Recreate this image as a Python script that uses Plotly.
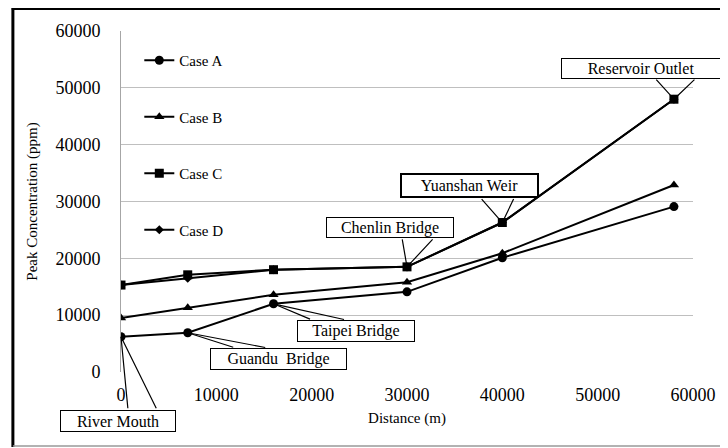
import plotly.graph_objects as go

# ---- data ----
distance = [0, 7000, 16000, 30000, 40000, 58000]
case_a = [6200, 6900, 12000, 14100, 20100, 29100]
case_b = [9500, 11300, 13600, 15800, 20900, 32900]
case_c = [15300, 17100, 18000, 18500, 26300, 48000]
case_d = [15300, 16500, 18000, 18500, 26300, 48000]
series_names = ["Case A", "Case B", "Case C", "Case D"]
x_ticks = [0, 10000, 20000, 30000, 40000, 50000, 60000]
y_ticks = [0, 10000, 20000, 30000, 40000, 50000, 60000]

# callout labels: (text, series, point index)
labels = [
    ("River Mouth", "A", 0),
    ("Guandu  Bridge", "A", 1),
    ("Taipei Bridge", "A", 2),
    ("Chenlin Bridge", "C", 3),
    ("Yuanshan Weir", "C", 4),
    ("Reservoir Outlet", "C", 5),
]

FONT = "Liberation Serif"
series = {"A": case_a, "B": case_b, "C": case_c, "D": case_d}
symbols = {"A": "circle", "B": "triangle-up", "C": "square", "D": "diamond"}
msizes = {"A": 9, "B": 9, "C": 9, "D": 7}
keys = ["A", "B", "C", "D"]

fig = go.Figure()
# draw D before C so that C's squares sit on top where they coincide
for key in ["A", "B", "D", "C"]:
    i = keys.index(key)
    name = series_names[i]
    fig.add_trace(go.Scatter(
        x=distance, y=series[key], name=name, mode="lines+markers",
        line=dict(color="black", width=2),
        marker=dict(symbol=symbols[key], size=msizes[key], color="black"),
        legendgroup=name, legendrank=i + 1,
    ))

# callout styles: shift of box centre (px, y up), box size, wedge base (dy up, x1, x2), border width
callout_style = {
    "River Mouth": dict(sx=-3, sy=-84, w=116, h=22, wy=-73, wx1=7, wx2=36, bw=1),
    "Guandu  Bridge": dict(sx=91, sy=-26, w=137, h=22, wy=-15, wx1=47, wx2=79, bw=1),
    "Taipei Bridge": dict(sx=82, sy=-27, w=118, h=22, wy=-16, wx1=38, wx2=72, bw=1),
    "Chenlin Bridge": dict(sx=-17, sy=39, w=128, h=21, wy=29, wx1=-5, wx2=27, bw=1),
    "Yuanshan Weir": dict(sx=-33, sy=37, w=139, h=25, wy=25, wx1=-22, wx2=12, bw=2),
    "Reservoir Outlet": dict(sx=-33, sy=31, w=160, h=21, wy=21, wx1=-19, wx2=22, bw=1),
}

shapes = []
annotations = []
for text, key, idx in labels:
    st = callout_style[text]
    px, py = distance[idx], series[key][idx]
    # wedge pointer: two lines from the box edge to the point
    for wx in (st["wx1"], st["wx2"]):
        annotations.append(dict(
            x=px, y=py, xref="x", yref="y", text="", showarrow=True,
            ax=wx, ay=-st["wy"], axref="pixel", ayref="pixel",
            arrowhead=0, arrowwidth=1.2, arrowcolor="black",
            standoff=0, startstandoff=0,
        ))
    annotations.append(dict(
        x=px, y=py, xref="x", yref="y", text=text, showarrow=False,
        xshift=st["sx"], yshift=st["sy"], xanchor="center", yanchor="middle",
        width=st["w"] - 2 * st["bw"], height=st["h"] - 2 * st["bw"],
        borderpad=0, borderwidth=st["bw"], bordercolor="black", bgcolor="white",
        font=dict(family=FONT, size=16, color="black"),
    ))

# outer frame
shapes += [
    dict(type="line", xref="paper", yref="paper", x0=-0.189, x1=-0.189, y0=-0.22, y1=1.07,
         line=dict(color="black", width=3), layer="above"),
    dict(type="line", xref="paper", yref="paper", x0=-0.191, x1=1.06, y0=1.066, y1=1.066,
         line=dict(color="black", width=3), layer="above"),
    dict(type="line", xref="paper", yref="paper", x0=-0.189, x1=1.06, y0=-0.217, y1=-0.217,
         line=dict(color="#999999", width=1.5), layer="above"),
]

fig.update_layout(
    width=720, height=440,
    margin=dict(l=113, r=28, t=23, b=76),
    paper_bgcolor="white", plot_bgcolor="white",
    font=dict(family=FONT, color="black"),
    showlegend=True,
    legend=dict(x=0.032, y=0.962, xanchor="left", yanchor="top",
                bgcolor="rgba(0,0,0,0)", font=dict(family=FONT, size=15),
                tracegroupgap=34, itemwidth=30),
    shapes=shapes, annotations=annotations,
)
fig.update_xaxes(
    range=[0, 60000], tickvals=x_ticks, ticktext=[str(v) for v in x_ticks],
    showgrid=False, zeroline=False, showline=False,
    tickfont=dict(family=FONT, size=18), ticklabelstandoff=10,
    title=dict(text="Distance (m)", font=dict(family=FONT, size=15), standoff=8),
)
fig.update_yaxes(
    range=[0, 60000], tickvals=y_ticks, ticktext=[str(v) for v in y_ticks],
    showgrid=True, gridcolor="#bfbfbf", gridwidth=1, zeroline=False,
    showline=True, linecolor="#a6a6a6", linewidth=1,
    tickfont=dict(family=FONT, size=18), ticklabelstandoff=16,
    title=dict(text="Peak Concentration (ppm)", font=dict(family=FONT, size=15), standoff=14),
)

fig.write_html("out.html")
